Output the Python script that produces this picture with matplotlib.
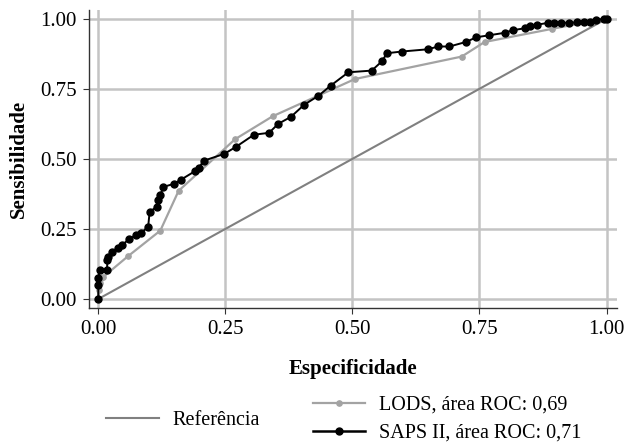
import numpy as np
import matplotlib
matplotlib.use("Agg")
import matplotlib.pyplot as plt
from matplotlib.lines import Line2D

# %% Data

saps_x = [0.0, 0.0, 0.0, 0.003, 0.017, 0.018, 0.02, 0.027, 0.038, 0.047, 0.061,
          0.075, 0.084, 0.098, 0.101, 0.115, 0.118, 0.122, 0.128, 0.149, 0.162,
          0.191, 0.198, 0.207, 0.248, 0.271, 0.306, 0.336, 0.354, 0.379, 0.405,
          0.433, 0.457, 0.492, 0.538, 0.558, 0.568, 0.597, 0.648, 0.669, 0.691,
          0.723, 0.744, 0.769, 0.8, 0.815, 0.839, 0.85, 0.864, 0.884, 0.896,
          0.911, 0.926, 0.941, 0.955, 0.967, 0.98, 0.996, 1.0]
saps_y = [0.0, 0.05, 0.075, 0.104, 0.104, 0.139, 0.15, 0.168, 0.182, 0.193, 0.214,
          0.229, 0.236, 0.257, 0.311, 0.329, 0.354, 0.371, 0.4, 0.411, 0.425,
          0.457, 0.468, 0.493, 0.518, 0.543, 0.586, 0.593, 0.625, 0.65, 0.693,
          0.725, 0.761, 0.809, 0.815, 0.848, 0.877, 0.883, 0.891, 0.901, 0.901,
          0.917, 0.934, 0.941, 0.95, 0.959, 0.966, 0.973, 0.979, 0.985, 0.985,
          0.986, 0.986, 0.987, 0.987, 0.988, 0.996, 1.0, 1.0]

lods_x = [0.0, 0.001, 0.004, 0.006, 0.01, 0.058, 0.122, 0.158, 0.269, 0.343,
          0.505, 0.715, 0.76, 0.893, 0.996, 1.0]
lods_y = [0.0, 0.032, 0.057, 0.075, 0.079, 0.152, 0.244, 0.386, 0.57, 0.652,
          0.785, 0.865, 0.917, 0.964, 1.0, 1.0]

ref_x = [0, 1]
ref_y = [0, 1]

ticks = [0.0, 0.25, 0.5, 0.75, 1.0]
tick_labels = ['0.00', '0.25', '0.50', '0.75', '1.00']

# %% Plot

plt.rcParams['font.family'] = ['Liberation Serif', 'DejaVu Serif']

fig = plt.figure(figsize=(6.28, 4.45), dpi=100)
ax = fig.add_axes([0.142, 0.308, 0.84, 0.67])

ax.grid(True, color='#c4c4c4', linewidth=1.8)
ax.set_axisbelow(True)

ref_line, = ax.plot(ref_x, ref_y, color='#808080', linewidth=1.5)
lods_line, = ax.plot(lods_x, lods_y, color='#a3a3a3', linewidth=1.6,
                     marker='o', markersize=3.8)
saps_line, = ax.plot(saps_x, saps_y, color='black', linewidth=1.4,
                     marker='o', markersize=5.0)

ax.set_xlim(-0.018, 1.02)
ax.set_ylim(-0.032, 1.032)
ax.set_xticks(ticks)
ax.set_xticklabels(tick_labels)
ax.set_yticks(ticks)
ax.set_yticklabels(tick_labels)
ax.tick_params(labelsize=15, length=4, color='#333333', pad=5)

for s in ['top', 'right']:
    ax.spines[s].set_visible(False)
for s in ['left', 'bottom']:
    ax.spines[s].set_color('#333333')
    ax.spines[s].set_linewidth(1.0)

ax.set_xlabel('Especificidade', fontsize=15, fontweight='bold', labelpad=14)
ax.set_ylabel('Sensibilidade', fontsize=15, fontweight='bold', labelpad=8)

leg1 = fig.legend([ref_line], ['Referência'], loc='center',
                  bbox_to_anchor=(0.292, 0.055), frameon=False, fontsize=14.5,
                  handlelength=2.6, handletextpad=0.7)
h_lods = Line2D([], [], color='#a3a3a3', linewidth=1.6, marker='o', markersize=3.8)
h_saps = Line2D([], [], color='black', linewidth=1.8, marker='o', markersize=5.0)
leg2 = fig.legend([h_lods, h_saps],
                  ['LODS, área ROC: 0,69', 'SAPS II, área ROC: 0,71'],
                  loc='center', bbox_to_anchor=(0.712, 0.058), frameon=False,
                  fontsize=14.5, handlelength=2.6, handletextpad=0.7,
                  labelspacing=0.45, borderpad=0.2)

fig.savefig('out.png', dpi=100)
